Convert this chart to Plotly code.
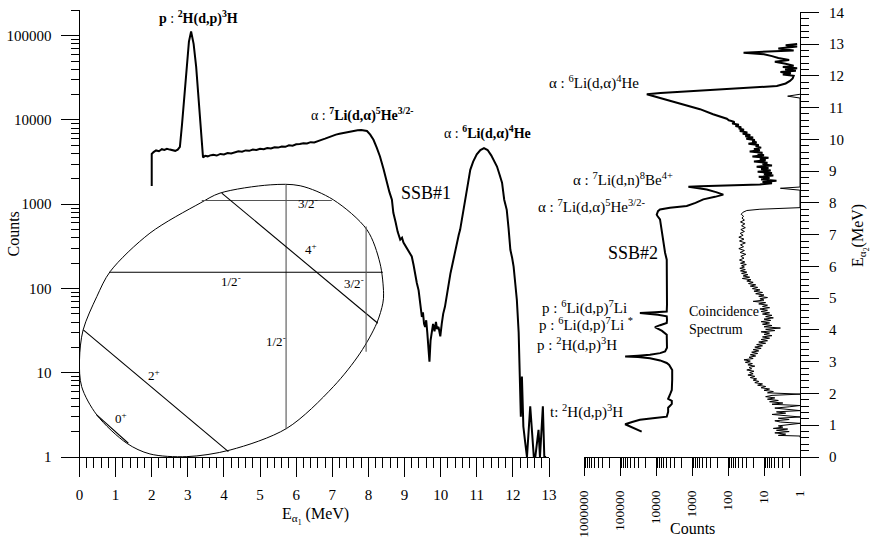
import plotly.graph_objects as go

W, H = 880, 540
FONT = "'Liberation Serif', 'Times New Roman', 'DejaVu Serif', serif"


def px(x):
    return x / W


def py(y):
    return 1 - y / H


# ---------------- SSB#1 spectrum (left panel) ----------------
ssb1_E = [2.00, 2.00, 2.05, 2.12, 2.20, 2.28, 2.35, 2.42, 2.50, 2.58, 2.65, 2.72, 2.78, 2.84, 2.90,
          2.97, 3.03, 3.09, 3.16, 3.23, 3.30, 3.35, 3.39, 3.42, 3.48, 3.55, 3.62, 3.70, 3.80, 3.90,
          4.00, 4.10, 4.20, 4.30, 4.40, 4.50, 4.60, 4.70, 4.80, 4.90, 5.00, 5.10, 5.20, 5.30, 5.40,
          5.50, 5.60, 5.70, 5.80, 5.90, 6.00, 6.10, 6.20, 6.30, 6.40, 6.50, 6.60, 6.70, 6.80, 6.90,
          7.00, 7.10, 7.20, 7.30, 7.40, 7.50, 7.60, 7.70, 7.80, 7.90, 7.96, 8.05, 8.14, 8.23, 8.32,
          8.42, 8.51, 8.58, 8.65, 8.69, 8.75, 8.81, 8.88, 8.93, 8.97, 9.03, 9.08, 9.14, 9.20, 9.25,
          9.30, 9.34, 9.39, 9.43, 9.46, 9.48, 9.51, 9.54, 9.57, 9.60, 9.63, 9.66, 9.69, 9.72, 9.75,
          9.79, 9.83, 9.87, 9.90, 9.94, 9.97, 9.99, 10.03, 10.07, 10.12, 10.17, 10.22, 10.27, 10.31,
          10.35, 10.40, 10.45, 10.50, 10.54, 10.61, 10.68, 10.75, 10.82, 10.90, 11.00, 11.10, 11.20,
          11.30, 11.40, 11.48, 11.56, 11.63, 11.70, 11.76, 11.83, 11.88, 11.93, 11.98, 12.02, 12.07,
          12.11, 12.16, 12.20, 12.22, 12.25, 12.29, 12.34, 12.39, 12.48, 12.53, 12.58, 12.62, 12.71,
          12.75, 12.83, 12.87, 12.92]
ssb1_counts = [1650, 3950, 4150, 4350, 4250, 4500, 4400, 4550, 4450, 4350, 4300, 4450, 4800, 9000, 17400,
               43000, 85000, 112000, 80000, 43000, 17400, 7000, 4300, 3600, 3750, 3700, 3800, 3850, 3780, 3950,
               3900, 4050, 4000, 4150, 4250, 4200, 4350, 4300, 4450, 4400, 4550, 4500, 4650, 4600, 4750,
               4700, 4850, 4800, 5000, 4950, 5150, 5200, 5300, 5250, 5450, 5400, 5650, 5800, 6000, 6250,
               6400, 6700, 6850, 7000, 7200, 7350, 7450, 7550, 7600, 7550, 7400, 6700, 5820, 4700, 3690,
               2600, 1780, 1400, 1130, 790, 620, 470, 380, 400, 350, 320, 290, 270, 240, 190,
               140, 116, 95, 73, 58, 46, 52, 38, 35, 42, 30, 22, 13.5, 24, 30,
               38, 31, 40, 33, 35, 30, 27, 38, 50, 61, 85, 116, 150, 180,
               218, 290, 360, 430, 500, 780, 1130, 1700, 2560, 3200, 3900, 4400, 4640,
               4400, 3800, 3300, 2800, 2250, 1800, 1130, 858, 520, 288, 230, 182, 110,
               73, 30, 9, 3, 9, 2.3, 1.5, 1, 4, 1.9, 1, 1, 2.1,
               1, 4, 1, 1]

# ---------------- SSB#2 spectrum (right panel, counts vs E_alpha2) ----------------
ssb2_E2 = [0.80, 0.91, 1.03, 1.10, 1.17, 1.23, 1.27, 1.42, 1.55, 1.62, 1.67, 1.77, 1.83, 1.96, 2.11,
           2.43, 2.74, 2.90, 2.96, 3.04, 3.11, 3.15, 3.16, 3.19, 3.22, 3.27, 3.32, 3.44, 3.69, 3.85,
           3.97, 4.09, 4.15, 4.22, 4.32, 4.43, 4.48, 4.53, 4.56, 4.58, 4.79, 5.58, 6.21, 6.43, 7.16,
           7.48, 7.58, 7.63, 7.74, 7.79, 7.85, 7.90, 8.00, 8.11, 8.19, 8.26, 8.34, 8.42, 8.47, 8.51,
           8.52, 8.54, 8.56, 8.58, 8.62, 8.66, 8.70, 8.74, 8.78, 8.82, 8.86, 8.90, 8.94, 8.98, 9.02,
           9.06, 9.10, 9.14, 9.18, 9.22, 9.26, 9.30, 9.34, 9.38, 9.42, 9.46, 9.50, 9.54, 9.58, 9.62,
           9.66, 9.70, 9.74, 9.78, 9.82, 9.86, 9.90, 9.94, 9.98, 10.02, 10.06, 10.10, 10.14, 10.18,
           10.22, 10.26, 10.30, 10.34, 10.38, 10.42, 10.46, 10.50, 10.55, 10.60, 10.65, 10.79, 10.95,
           11.07, 11.16, 11.25, 11.32, 11.38, 11.42, 11.46, 11.50, 11.54, 11.58, 11.62, 11.68, 11.76,
           11.84, 11.92, 12.00, 12.04, 12.08, 12.12, 12.16, 12.20, 12.24, 12.28, 12.32, 12.38, 12.44,
           12.50, 12.56, 12.62, 12.68, 12.73, 12.76, 12.80, 12.86, 12.92, 12.96, 13.00]
ssb2_counts = [25000, 43500, 72000, 46000, 28000, 10700, 5030, 4600, 4600, 4000, 3640, 3640, 4600, 4100, 3640,
               3550, 3550, 4300, 5030, 7700, 14700, 31600, 72000, 31600, 14700, 7700, 5600, 4950, 4950, 5030,
               6800, 10700, 7700, 5030, 4950, 5030, 8800, 28000, 10700, 5030, 4950, 4950, 5030, 5600, 6930,
               7740, 9000, 9550, 8800, 7740, 4100, 1400, 800, 485, 230, 135, 215, 390, 725, 1260,
               600, 166, 34, 13, 6, 11, 4.5, 12, 7, 14, 5.5, 10, 6, 15, 6.5,
               12, 7.5, 16, 6, 11, 8, 19, 9, 13, 7.5, 21, 10, 15, 11, 25,
               13, 19, 12, 17, 14, 27, 16, 21, 18, 31, 20, 33, 24, 39,
               29, 47, 36, 50, 43, 62, 50, 76, 66, 95, 108, 260, 600,
               1400, 2650, 4800, 7700, 12500, 18000, 7500, 1800, 400, 80, 20, 4.4, 2.5,
               1.9, 1.6, 1.5, 3, 1.8, 3.5, 1.3, 2.6, 1.2, 3, 1.5, 2.5, 5,
               2, 4, 6, 10, 37, 6, 1.5, 4, 1.2, 2.5, 1.2]

# ---------------- Coincidence spectrum (right panel) ----------------
coin_E2 = [0.62, 0.66, 0.68, 0.72, 0.76, 0.80, 0.84, 0.88, 0.90, 0.94, 0.98, 1.02, 1.06, 1.10, 1.14,
           1.18, 1.22, 1.26, 1.30, 1.34, 1.38, 1.42, 1.46, 1.50, 1.54, 1.58, 1.62, 1.66, 1.70, 1.74,
           1.78, 1.82, 1.86, 1.90, 1.94, 1.98, 2.02, 2.06, 2.10, 2.14, 2.18, 2.22, 2.26, 2.30, 2.34,
           2.38, 2.42, 2.46, 2.50, 2.54, 2.58, 2.62, 2.66, 2.70, 2.74, 2.78, 2.82, 2.86, 2.90, 2.94,
           2.98, 3.02, 3.06, 3.10, 3.14, 3.18, 3.22, 3.26, 3.30, 3.34, 3.38, 3.42, 3.46, 3.50, 3.54,
           3.58, 3.62, 3.66, 3.70, 3.74, 3.78, 3.82, 3.86, 3.90, 3.94, 3.98, 4.02, 4.06, 4.10, 4.14,
           4.18, 4.22, 4.26, 4.30, 4.34, 4.38, 4.42, 4.46, 4.50, 4.54, 4.58, 4.62, 4.66, 4.70, 4.74,
           4.78, 4.82, 4.86, 4.90, 4.94, 4.98, 5.02, 5.06, 5.10, 5.14, 5.18, 5.22, 5.26, 5.30, 5.34,
           5.38, 5.42, 5.46, 5.50, 5.54, 5.58, 5.62, 5.66, 5.70, 5.74, 5.78, 5.82, 5.86, 5.90, 5.94,
           5.98, 6.02, 6.06, 6.10, 6.14, 6.20, 6.26, 6.32, 6.38, 6.44, 6.50, 6.56, 6.62, 6.68, 6.74,
           6.80, 6.86, 6.92, 6.98, 7.04, 7.10, 7.16, 7.22, 7.28, 7.34, 7.40, 7.46, 7.52, 7.58, 7.64,
           7.70, 7.76, 7.80, 7.83, 7.85, 8.40, 8.46, 8.50, 11.30, 11.36, 11.42]
coin_counts = [1, 1, 4, 2.5, 5, 2, 4.5, 2.2, 5.5, 3, 4, 2, 1, 3.5, 5,
               2, 4, 1, 3, 6, 2.5, 4.5, 1, 3, 5, 2, 1, 6, 3, 7,
               4, 8, 5, 9, 6, 1, 8, 5.5, 10, 7, 12, 9, 15, 11, 18,
               14, 20, 16, 24, 18, 28, 20, 25, 19, 30, 22, 26, 18, 28, 21,
               33, 24, 36, 20, 26, 17, 24, 15, 22, 14, 20, 12, 18, 11, 16,
               9, 14, 8, 12, 7, 11, 6, 10, 7, 12, 5, 9, 3.5, 10, 6,
               11, 7, 12, 6.5, 10, 5.5, 9, 6, 11, 7, 12, 8, 13, 7, 11,
               8, 14, 9, 20, 10, 13, 8, 14, 10, 17, 11, 19, 13, 21, 15,
               24, 17, 27, 20, 30, 23, 40, 25, 38, 28, 42, 30, 45, 33, 47,
               35, 42, 31, 45, 34, 48, 36, 44, 32, 46, 35, 50, 37, 45, 33,
               48, 36, 50, 38, 46, 35, 44, 33, 42, 34, 45, 35, 41, 37, 43,
               39, 30, 13, 4, 1, 1, 3.5, 1, 1, 2.2, 1]

# ---------------- Inset level diagram (drawn in the left panel) ----------------
ellipse_E = [5.28, 6.11, 7.03, 7.96, 8.32, 8.42, 8.40, 8.23, 7.77, 7.03, 5.74, 4.17, 2.97, 1.95, 1.31,
             0.48, 0.06, 0.0, 0.10, 0.48, 0.85, 1.95, 3.34, 3.89, 5.28]
ellipse_counts = [1698, 1656, 1127, 497, 200, 88, 67, 38.7, 17.1, 6.84, 2.19, 1.21, 1.01, 1.087, 1.455,
                  3.155, 6.84, 14.2, 32.2, 80.2, 159, 454, 1030, 1355, 1698]

chord_E = [[3.385, 6.986], [5.72, 5.72], [0.826, 8.399], [3.939, 8.260], [7.936, 7.936],
           [0.105, 4.122], [0.476, 1.352]]
chord_counts = [[1107, 1107], [1698, 2.13], [156, 156], [1355, 38.7], [543, 17.8],
                [32.2, 1.156], [3.155, 1.455]]
chord_colors = ["#555555", "#555555", "black", "black", "#555555", "black", "black"]

fig = go.Figure()

fig.add_trace(go.Scatter(x=ellipse_E, y=ellipse_counts, mode="lines",
                         line=dict(color="black", width=1, shape="spline", smoothing=0.9),
                         xaxis="x", yaxis="y", hoverinfo="skip"))
for ce, cc, col in zip(chord_E, chord_counts, chord_colors):
    fig.add_trace(go.Scatter(x=ce, y=cc, mode="lines", line=dict(color=col, width=1.1),
                             xaxis="x", yaxis="y", hoverinfo="skip"))

fig.add_trace(go.Scatter(x=ssb1_E, y=ssb1_counts, mode="lines",
                         line=dict(color="black", width=2), xaxis="x", yaxis="y"))

fig.add_trace(go.Scatter(x=coin_counts, y=coin_E2, mode="lines",
                         line=dict(color="black", width=1), xaxis="x2", yaxis="y2"))
fig.add_trace(go.Scatter(x=ssb2_counts, y=ssb2_E2, mode="lines",
                         line=dict(color="black", width=2), xaxis="x2", yaxis="y2"))

tickfont = dict(family=FONT, size=15, color="black")

fig.update_layout(
    width=W, height=H, margin=dict(l=0, r=0, t=0, b=0, autoexpand=False),
    paper_bgcolor="white", plot_bgcolor="white", showlegend=False,
    font=dict(family=FONT, color="black"),
    xaxis=dict(domain=[px(79.5), px(549)], range=[0, 13], dtick=1, anchor="y", automargin=False,
               showline=True, linecolor="black", linewidth=1, mirror=False,
               ticks="outside", ticklen=19, tickwidth=1, tickcolor="black",
               minor=dict(dtick=0.2, ticks="outside", ticklen=10, tickwidth=1, tickcolor="black", showgrid=False),
               showgrid=False, zeroline=False, tickfont=tickfont, ticklabelstandoff=5),
    yaxis=dict(domain=[py(457), py(10)], type="log", range=[0, 5.305], dtick=1, anchor="x",
               automargin=False, tickformat="d",
               showline=True, linecolor="black", linewidth=1,
               ticks="outside", ticklen=18, tickwidth=1, tickcolor="black",
               minor=dict(dtick="D1", ticks="outside", ticklen=8, tickwidth=1, tickcolor="black", showgrid=False),
               showgrid=False, zeroline=False, tickfont=tickfont, ticklabelstandoff=6),
    xaxis2=dict(domain=[px(584), px(800)], type="log", range=[6, 0], dtick=1, anchor="y2",
                automargin=False, tickformat="d", tickangle=-90,
                showline=True, linecolor="black", linewidth=1,
                ticks="outside", ticklen=18, tickwidth=1, tickcolor="black",
                minor=dict(dtick="D1", ticks="outside", ticklen=10, tickwidth=1, tickcolor="black", showgrid=False),
                showgrid=False, zeroline=False, tickfont=dict(family=FONT, size=13.5, color="black"),
                ticklabelstandoff=9),
    yaxis2=dict(domain=[py(457), py(12.3)], range=[0, 14], dtick=1, anchor="x2", side="right",
                automargin=False,
                showline=True, linecolor="black", linewidth=1,
                ticks="outside", ticklen=18, tickwidth=1, tickcolor="black",
                minor=dict(dtick=0.2, ticks="outside", ticklen=8, tickwidth=1, tickcolor="black", showgrid=False),
                showgrid=False, zeroline=False, tickfont=tickfont, ticklabelstandoff=7),
)


def ann(text, x, y, size=14, xanchor="center", angle=0):
    return dict(text=text, x=px(x), y=py(y), xref="paper", yref="paper", showarrow=False,
                font=dict(family=FONT, size=size, color="black"), xanchor=xanchor,
                yanchor="middle", textangle=angle)


annotations = [
    # axis titles
    ann("Counts", 12.5, 234, size=16, angle=-90),
    ann("E<sub>α<sub>1</sub></sub> (MeV)", 315, 516, size=16),
    ann("Counts", 692, 528, size=16),
    ann("E<sub>α<sub>2</sub></sub>(MeV)", 860, 236, size=16, angle=-90),
    # left panel labels
    ann("<b>p</b> : <b><sup>2</sup>H(d,p)<sup>3</sup>H</b>", 198, 18, size=14),
    ann("α : <b><sup>7</sup>Li(d,α)<sup>5</sup>He<sup>3/2-</sup></b>", 362, 114, size=14),
    ann("α : <b><sup>6</sup>Li(d,α)<sup>4</sup>He</b>", 487, 132, size=14),
    ann("SSB#1", 426, 193, size=18),
    # inset labels
    ann("3/2<sup>-</sup>", 308, 203, size=13),
    ann("4<sup>+</sup>", 311, 249, size=13),
    ann("1/2<sup>-</sup>", 231, 281, size=13),
    ann("3/2<sup>-</sup>", 354, 283, size=13),
    ann("1/2<sup>-</sup>", 276, 341, size=13),
    ann("2<sup>+</sup>", 154, 375, size=13),
    ann("0<sup>+</sup>", 121, 418, size=13),
    # right panel labels
    ann("α : <sup>6</sup>Li(d,α)<sup>4</sup>He", 641, 82, size=15, xanchor="right"),
    ann("α : <sup>7</sup>Li(d,n)<sup>8</sup>Be<sup>4+</sup>", 675, 179, size=15, xanchor="right"),
    ann("α : <sup>7</sup>Li(d,α)<sup>5</sup>He<sup>3/2-</sup>", 647, 207, size=15, xanchor="right"),
    ann("SSB#2", 633, 253, size=18),
    ann("p : <sup>6</sup>Li(d,p)<sup>7</sup>Li", 629, 307, size=15, xanchor="right"),
    ann("p : <sup>6</sup>Li(d,p)<sup>7</sup>Li <sup>*</sup>", 635, 324, size=15, xanchor="right"),
    ann("p : <sup>2</sup>H(d,p)<sup>3</sup>H", 619, 344, size=15, xanchor="right"),
    ann("t: <sup>2</sup>H(d,p)<sup>3</sup>H", 625, 411, size=15, xanchor="right"),
    dict(text="Coincidence<br>Spectrum", x=px(687), y=py(320), xref="paper", yref="paper",
         showarrow=False, font=dict(family=FONT, size=14, color="black"),
         xanchor="left", yanchor="middle", align="left"),
]
fig.update_layout(annotations=annotations)

fig.write_html("out.html", config={"displayModeBar": False},
               post_script="document.body.style.margin='0px';")
